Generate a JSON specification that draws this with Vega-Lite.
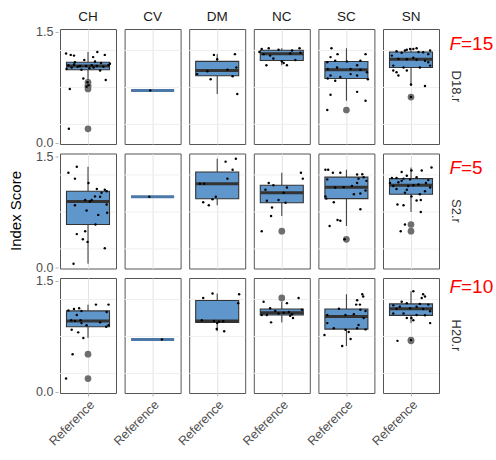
{
"$schema": "https://vega.github.io/schema/vega-lite/v6.json",
"padding": {"left": 8, "top": 9, "right": 2, "bottom": 4},
"bounds": "flush",
"data": {"values": [
{"row":"D18.r","col":"CH","x":"Reference","score":0.19,"jitter":-0.41},
{"row":"D18.r","col":"CH","x":"Reference","score":0.73,"jitter":-0.39},
{"row":"D18.r","col":"CH","x":"Reference","score":0.76,"jitter":-0.03},
{"row":"D18.r","col":"CH","x":"Reference","score":0.78,"jitter":0.01},
{"row":"D18.r","col":"CH","x":"Reference","score":0.82,"jitter":-0.01},
{"row":"D18.r","col":"CH","x":"Reference","score":0.85,"jitter":0.38},
{"row":"D18.r","col":"CH","x":"Reference","score":0.87,"jitter":-0.10},
{"row":"D18.r","col":"CH","x":"Reference","score":0.98,"jitter":0.26},
{"row":"D18.r","col":"CH","x":"Reference","score":0.99,"jitter":-0.14},
{"row":"D18.r","col":"CH","x":"Reference","score":1.00,"jitter":-0.46},
{"row":"D18.r","col":"CH","x":"Reference","score":1.01,"jitter":0.03},
{"row":"D18.r","col":"CH","x":"Reference","score":1.02,"jitter":-0.35},
{"row":"D18.r","col":"CH","x":"Reference","score":1.02,"jitter":0.12},
{"row":"D18.r","col":"CH","x":"Reference","score":1.03,"jitter":0.33},
{"row":"D18.r","col":"CH","x":"Reference","score":1.03,"jitter":-0.22},
{"row":"D18.r","col":"CH","x":"Reference","score":1.04,"jitter":-0.17},
{"row":"D18.r","col":"CH","x":"Reference","score":1.04,"jitter":-0.04},
{"row":"D18.r","col":"CH","x":"Reference","score":1.04,"jitter":0.19},
{"row":"D18.r","col":"CH","x":"Reference","score":1.05,"jitter":-0.42},
{"row":"D18.r","col":"CH","x":"Reference","score":1.05,"jitter":0.08},
{"row":"D18.r","col":"CH","x":"Reference","score":1.05,"jitter":0.44},
{"row":"D18.r","col":"CH","x":"Reference","score":1.06,"jitter":-0.30},
{"row":"D18.r","col":"CH","x":"Reference","score":1.07,"jitter":0.47},
{"row":"D18.r","col":"CH","x":"Reference","score":1.08,"jitter":0.28},
{"row":"D18.r","col":"CH","x":"Reference","score":1.09,"jitter":-0.28},
{"row":"D18.r","col":"CH","x":"Reference","score":1.10,"jitter":0.15},
{"row":"D18.r","col":"CH","x":"Reference","score":1.12,"jitter":-0.08},
{"row":"D18.r","col":"CH","x":"Reference","score":1.16,"jitter":0.11},
{"row":"D18.r","col":"CH","x":"Reference","score":1.18,"jitter":-0.30},
{"row":"D18.r","col":"CH","x":"Reference","score":1.19,"jitter":-0.37},
{"row":"D18.r","col":"CH","x":"Reference","score":1.19,"jitter":0.36},
{"row":"D18.r","col":"CH","x":"Reference","score":1.21,"jitter":-0.47},
{"row":"D18.r","col":"CH","x":"Reference","score":1.23,"jitter":0.20},
{"row":"D18.r","col":"CV","x":"Reference","score":0.71,"jitter":-0.05},
{"row":"D18.r","col":"DM","x":"Reference","score":0.66,"jitter":0.43},
{"row":"D18.r","col":"DM","x":"Reference","score":0.86,"jitter":-0.14},
{"row":"D18.r","col":"DM","x":"Reference","score":0.90,"jitter":0.33},
{"row":"D18.r","col":"DM","x":"Reference","score":0.93,"jitter":-0.43},
{"row":"D18.r","col":"DM","x":"Reference","score":0.97,"jitter":-0.21},
{"row":"D18.r","col":"DM","x":"Reference","score":0.99,"jitter":0.22},
{"row":"D18.r","col":"DM","x":"Reference","score":1.02,"jitter":0.41},
{"row":"D18.r","col":"DM","x":"Reference","score":1.13,"jitter":0.0},
{"row":"D18.r","col":"DM","x":"Reference","score":1.19,"jitter":-0.07},
{"row":"D18.r","col":"DM","x":"Reference","score":1.20,"jitter":0.38},
{"row":"D18.r","col":"NC","x":"Reference","score":1.05,"jitter":-0.33},
{"row":"D18.r","col":"NC","x":"Reference","score":1.05,"jitter":0.11},
{"row":"D18.r","col":"NC","x":"Reference","score":1.08,"jitter":0.04},
{"row":"D18.r","col":"NC","x":"Reference","score":1.10,"jitter":0.0},
{"row":"D18.r","col":"NC","x":"Reference","score":1.12,"jitter":0.29},
{"row":"D18.r","col":"NC","x":"Reference","score":1.14,"jitter":-0.18},
{"row":"D18.r","col":"NC","x":"Reference","score":1.18,"jitter":-0.25},
{"row":"D18.r","col":"NC","x":"Reference","score":1.20,"jitter":-0.39},
{"row":"D18.r","col":"NC","x":"Reference","score":1.21,"jitter":0.18},
{"row":"D18.r","col":"NC","x":"Reference","score":1.22,"jitter":0.40},
{"row":"D18.r","col":"NC","x":"Reference","score":1.23,"jitter":-0.48},
{"row":"D18.r","col":"NC","x":"Reference","score":1.25,"jitter":0.22},
{"row":"D18.r","col":"NC","x":"Reference","score":1.26,"jitter":-0.07},
{"row":"D18.r","col":"NC","x":"Reference","score":1.27,"jitter":-0.43},
{"row":"D18.r","col":"NC","x":"Reference","score":1.28,"jitter":-0.28},
{"row":"D18.r","col":"NC","x":"Reference","score":1.28,"jitter":0.38},
{"row":"D18.r","col":"SC","x":"Reference","score":0.445,"jitter":-0.41},
{"row":"D18.r","col":"SC","x":"Reference","score":0.57,"jitter":0.41},
{"row":"D18.r","col":"SC","x":"Reference","score":0.65,"jitter":-0.34},
{"row":"D18.r","col":"SC","x":"Reference","score":0.69,"jitter":0.23},
{"row":"D18.r","col":"SC","x":"Reference","score":0.84,"jitter":-0.24},
{"row":"D18.r","col":"SC","x":"Reference","score":0.86,"jitter":0.46},
{"row":"D18.r","col":"SC","x":"Reference","score":0.87,"jitter":-0.40},
{"row":"D18.r","col":"SC","x":"Reference","score":0.89,"jitter":-0.13},
{"row":"D18.r","col":"SC","x":"Reference","score":0.91,"jitter":-0.34},
{"row":"D18.r","col":"SC","x":"Reference","score":0.91,"jitter":0.23},
{"row":"D18.r","col":"SC","x":"Reference","score":0.93,"jitter":0.09},
{"row":"D18.r","col":"SC","x":"Reference","score":0.955,"jitter":0.44},
{"row":"D18.r","col":"SC","x":"Reference","score":0.99,"jitter":0.30},
{"row":"D18.r","col":"SC","x":"Reference","score":1.0,"jitter":-0.40},
{"row":"D18.r","col":"SC","x":"Reference","score":1.0,"jitter":0.09},
{"row":"D18.r","col":"SC","x":"Reference","score":1.02,"jitter":-0.2},
{"row":"D18.r","col":"SC","x":"Reference","score":1.05,"jitter":0.23},
{"row":"D18.r","col":"SC","x":"Reference","score":1.09,"jitter":-0.41},
{"row":"D18.r","col":"SC","x":"Reference","score":1.10,"jitter":0.01},
{"row":"D18.r","col":"SC","x":"Reference","score":1.11,"jitter":-0.24},
{"row":"D18.r","col":"SC","x":"Reference","score":1.11,"jitter":0.30},
{"row":"D18.r","col":"SC","x":"Reference","score":1.16,"jitter":-0.34},
{"row":"D18.r","col":"SC","x":"Reference","score":1.20,"jitter":-0.19},
{"row":"D18.r","col":"SC","x":"Reference","score":1.20,"jitter":0.41},
{"row":"D18.r","col":"SC","x":"Reference","score":1.28,"jitter":-0.32},
{"row":"D18.r","col":"SN","x":"Reference","score":0.62,"jitter":0.0},
{"row":"D18.r","col":"SN","x":"Reference","score":0.77,"jitter":0.30},
{"row":"D18.r","col":"SN","x":"Reference","score":0.79,"jitter":0.0},
{"row":"D18.r","col":"SN","x":"Reference","score":0.91,"jitter":-0.27},
{"row":"D18.r","col":"SN","x":"Reference","score":0.955,"jitter":-0.31},
{"row":"D18.r","col":"SN","x":"Reference","score":0.98,"jitter":-0.38},
{"row":"D18.r","col":"SN","x":"Reference","score":0.98,"jitter":-0.09},
{"row":"D18.r","col":"SN","x":"Reference","score":1.02,"jitter":-0.16},
{"row":"D18.r","col":"SN","x":"Reference","score":1.02,"jitter":0.19},
{"row":"D18.r","col":"SN","x":"Reference","score":1.045,"jitter":-0.38},
{"row":"D18.r","col":"SN","x":"Reference","score":1.045,"jitter":0.41},
{"row":"D18.r","col":"SN","x":"Reference","score":1.09,"jitter":0.37},
{"row":"D18.r","col":"SN","x":"Reference","score":1.11,"jitter":0.30},
{"row":"D18.r","col":"SN","x":"Reference","score":1.125,"jitter":0.12},
{"row":"D18.r","col":"SN","x":"Reference","score":1.13,"jitter":-0.09},
{"row":"D18.r","col":"SN","x":"Reference","score":1.135,"jitter":-0.27},
{"row":"D18.r","col":"SN","x":"Reference","score":1.15,"jitter":0.05},
{"row":"D18.r","col":"SN","x":"Reference","score":1.18,"jitter":-0.41},
{"row":"D18.r","col":"SN","x":"Reference","score":1.20,"jitter":0.37},
{"row":"D18.r","col":"SN","x":"Reference","score":1.22,"jitter":-0.20},
{"row":"D18.r","col":"SN","x":"Reference","score":1.225,"jitter":0.26},
{"row":"D18.r","col":"SN","x":"Reference","score":1.23,"jitter":0.16},
{"row":"D18.r","col":"SN","x":"Reference","score":1.24,"jitter":-0.31},
{"row":"D18.r","col":"SN","x":"Reference","score":1.25,"jitter":-0.13},
{"row":"D18.r","col":"SN","x":"Reference","score":1.25,"jitter":0.41},
{"row":"D18.r","col":"SN","x":"Reference","score":1.26,"jitter":-0.09},
{"row":"D18.r","col":"SN","x":"Reference","score":1.27,"jitter":-0.02},
{"row":"D18.r","col":"SN","x":"Reference","score":1.27,"jitter":0.05},
{"row":"D18.r","col":"SN","x":"Reference","score":1.28,"jitter":0.12},
{"row":"S2.r","col":"CH","x":"Reference","score":0.05,"jitter":-0.31},
{"row":"S2.r","col":"CH","x":"Reference","score":0.26,"jitter":0.36},
{"row":"S2.r","col":"CH","x":"Reference","score":0.345,"jitter":-0.01},
{"row":"S2.r","col":"CH","x":"Reference","score":0.38,"jitter":-0.11},
{"row":"S2.r","col":"CH","x":"Reference","score":0.45,"jitter":-0.24},
{"row":"S2.r","col":"CH","x":"Reference","score":0.49,"jitter":-0.06},
{"row":"S2.r","col":"CH","x":"Reference","score":0.58,"jitter":0.16},
{"row":"S2.r","col":"CH","x":"Reference","score":0.71,"jitter":0.22},
{"row":"S2.r","col":"CH","x":"Reference","score":0.74,"jitter":0.41},
{"row":"S2.r","col":"CH","x":"Reference","score":0.77,"jitter":-0.03},
{"row":"S2.r","col":"CH","x":"Reference","score":0.84,"jitter":-0.28},
{"row":"S2.r","col":"CH","x":"Reference","score":0.85,"jitter":0.40},
{"row":"S2.r","col":"CH","x":"Reference","score":0.89,"jitter":0.04},
{"row":"S2.r","col":"CH","x":"Reference","score":0.91,"jitter":-0.06},
{"row":"S2.r","col":"CH","x":"Reference","score":0.91,"jitter":0.08},
{"row":"S2.r","col":"CH","x":"Reference","score":0.955,"jitter":0.26},
{"row":"S2.r","col":"CH","x":"Reference","score":0.96,"jitter":0.15},
{"row":"S2.r","col":"CH","x":"Reference","score":1.01,"jitter":0.29},
{"row":"S2.r","col":"CH","x":"Reference","score":1.03,"jitter":0.40},
{"row":"S2.r","col":"CH","x":"Reference","score":1.05,"jitter":0.36},
{"row":"S2.r","col":"CH","x":"Reference","score":1.06,"jitter":0.19},
{"row":"S2.r","col":"CH","x":"Reference","score":1.14,"jitter":0.01},
{"row":"S2.r","col":"CH","x":"Reference","score":1.20,"jitter":-0.28},
{"row":"S2.r","col":"CH","x":"Reference","score":1.28,"jitter":-0.42},
{"row":"S2.r","col":"CH","x":"Reference","score":1.36,"jitter":-0.24},
{"row":"S2.r","col":"CV","x":"Reference","score":0.955,"jitter":-0.07},
{"row":"S2.r","col":"DM","x":"Reference","score":0.84,"jitter":-0.18},
{"row":"S2.r","col":"DM","x":"Reference","score":0.88,"jitter":-0.30},
{"row":"S2.r","col":"DM","x":"Reference","score":0.92,"jitter":-0.10},
{"row":"S2.r","col":"DM","x":"Reference","score":0.955,"jitter":-0.03},
{"row":"S2.r","col":"DM","x":"Reference","score":1.13,"jitter":-0.37},
{"row":"S2.r","col":"DM","x":"Reference","score":1.13,"jitter":-0.28},
{"row":"S2.r","col":"DM","x":"Reference","score":1.20,"jitter":0.22},
{"row":"S2.r","col":"DM","x":"Reference","score":1.32,"jitter":0.33},
{"row":"S2.r","col":"DM","x":"Reference","score":1.43,"jitter":0.18},
{"row":"S2.r","col":"DM","x":"Reference","score":1.47,"jitter":0.40},
{"row":"S2.r","col":"NC","x":"Reference","score":0.49,"jitter":-0.43},
{"row":"S2.r","col":"NC","x":"Reference","score":0.695,"jitter":-0.23},
{"row":"S2.r","col":"NC","x":"Reference","score":0.81,"jitter":-0.21},
{"row":"S2.r","col":"NC","x":"Reference","score":0.875,"jitter":0.08},
{"row":"S2.r","col":"NC","x":"Reference","score":0.90,"jitter":-0.32},
{"row":"S2.r","col":"NC","x":"Reference","score":0.91,"jitter":-0.07},
{"row":"S2.r","col":"NC","x":"Reference","score":1.01,"jitter":0.04},
{"row":"S2.r","col":"NC","x":"Reference","score":1.05,"jitter":-0.35},
{"row":"S2.r","col":"NC","x":"Reference","score":1.08,"jitter":0.11},
{"row":"S2.r","col":"NC","x":"Reference","score":1.11,"jitter":-0.18},
{"row":"S2.r","col":"NC","x":"Reference","score":1.14,"jitter":-0.28},
{"row":"S2.r","col":"NC","x":"Reference","score":1.20,"jitter":0.45},
{"row":"S2.r","col":"NC","x":"Reference","score":1.28,"jitter":0.41},
{"row":"S2.r","col":"SC","x":"Reference","score":0.38,"jitter":-0.04},
{"row":"S2.r","col":"SC","x":"Reference","score":0.56,"jitter":-0.36},
{"row":"S2.r","col":"SC","x":"Reference","score":0.63,"jitter":-0.13},
{"row":"S2.r","col":"SC","x":"Reference","score":0.64,"jitter":-0.19},
{"row":"S2.r","col":"SC","x":"Reference","score":0.785,"jitter":0.30},
{"row":"S2.r","col":"SC","x":"Reference","score":0.88,"jitter":-0.27},
{"row":"S2.r","col":"SC","x":"Reference","score":0.93,"jitter":-0.43},
{"row":"S2.r","col":"SC","x":"Reference","score":0.96,"jitter":-0.45},
{"row":"S2.r","col":"SC","x":"Reference","score":0.99,"jitter":0.16},
{"row":"S2.r","col":"SC","x":"Reference","score":1.00,"jitter":0.30},
{"row":"S2.r","col":"SC","x":"Reference","score":1.04,"jitter":0.41},
{"row":"S2.r","col":"SC","x":"Reference","score":1.08,"jitter":-0.24},
{"row":"S2.r","col":"SC","x":"Reference","score":1.085,"jitter":-0.06},
{"row":"S2.r","col":"SC","x":"Reference","score":1.10,"jitter":0.12},
{"row":"S2.r","col":"SC","x":"Reference","score":1.14,"jitter":0.23},
{"row":"S2.r","col":"SC","x":"Reference","score":1.17,"jitter":0.43},
{"row":"S2.r","col":"SC","x":"Reference","score":1.19,"jitter":-0.41},
{"row":"S2.r","col":"SC","x":"Reference","score":1.20,"jitter":0.26},
{"row":"S2.r","col":"SC","x":"Reference","score":1.22,"jitter":0.37},
{"row":"S2.r","col":"SC","x":"Reference","score":1.255,"jitter":0.23},
{"row":"S2.r","col":"SC","x":"Reference","score":1.26,"jitter":0.34},
{"row":"S2.r","col":"SC","x":"Reference","score":1.28,"jitter":-0.29},
{"row":"S2.r","col":"SC","x":"Reference","score":1.28,"jitter":-0.13},
{"row":"S2.r","col":"SC","x":"Reference","score":1.32,"jitter":-0.45},
{"row":"S2.r","col":"SC","x":"Reference","score":1.32,"jitter":-0.39},
{"row":"S2.r","col":"SN","x":"Reference","score":0.49,"jitter":-0.22},
{"row":"S2.r","col":"SN","x":"Reference","score":0.58,"jitter":-0.13},
{"row":"S2.r","col":"SN","x":"Reference","score":0.75,"jitter":0.21},
{"row":"S2.r","col":"SN","x":"Reference","score":0.84,"jitter":-0.16},
{"row":"S2.r","col":"SN","x":"Reference","score":0.85,"jitter":-0.29},
{"row":"S2.r","col":"SN","x":"Reference","score":0.905,"jitter":0.12},
{"row":"S2.r","col":"SN","x":"Reference","score":0.91,"jitter":0.21},
{"row":"S2.r","col":"SN","x":"Reference","score":0.96,"jitter":0.01},
{"row":"S2.r","col":"SN","x":"Reference","score":0.99,"jitter":0.19},
{"row":"S2.r","col":"SN","x":"Reference","score":1.01,"jitter":-0.13},
{"row":"S2.r","col":"SN","x":"Reference","score":1.03,"jitter":0.30},
{"row":"S2.r","col":"SN","x":"Reference","score":1.05,"jitter":-0.09},
{"row":"S2.r","col":"SN","x":"Reference","score":1.06,"jitter":-0.31},
{"row":"S2.r","col":"SN","x":"Reference","score":1.08,"jitter":0.41},
{"row":"S2.r","col":"SN","x":"Reference","score":1.10,"jitter":-0.06},
{"row":"S2.r","col":"SN","x":"Reference","score":1.10,"jitter":-0.38},
{"row":"S2.r","col":"SN","x":"Reference","score":1.11,"jitter":0.05},
{"row":"S2.r","col":"SN","x":"Reference","score":1.12,"jitter":0.16},
{"row":"S2.r","col":"SN","x":"Reference","score":1.14,"jitter":-0.45},
{"row":"S2.r","col":"SN","x":"Reference","score":1.14,"jitter":0.32},
{"row":"S2.r","col":"SN","x":"Reference","score":1.15,"jitter":-0.27},
{"row":"S2.r","col":"SN","x":"Reference","score":1.17,"jitter":-0.20},
{"row":"S2.r","col":"SN","x":"Reference","score":1.18,"jitter":0.37},
{"row":"S2.r","col":"SN","x":"Reference","score":1.19,"jitter":-0.02},
{"row":"S2.r","col":"SN","x":"Reference","score":1.20,"jitter":-0.16},
{"row":"S2.r","col":"SN","x":"Reference","score":1.21,"jitter":-0.41},
{"row":"S2.r","col":"SN","x":"Reference","score":1.21,"jitter":-0.31},
{"row":"S2.r","col":"SN","x":"Reference","score":1.22,"jitter":0.12},
{"row":"S2.r","col":"SN","x":"Reference","score":1.24,"jitter":-0.09},
{"row":"S2.r","col":"SN","x":"Reference","score":1.29,"jitter":-0.20},
{"row":"S2.r","col":"SN","x":"Reference","score":1.31,"jitter":0.23},
{"row":"S2.r","col":"SN","x":"Reference","score":1.31,"jitter":0.01},
{"row":"S2.r","col":"SN","x":"Reference","score":1.35,"jitter":0.44},
{"row":"H20.r","col":"CH","x":"Reference","score":0.18,"jitter":-0.47},
{"row":"H20.r","col":"CH","x":"Reference","score":0.51,"jitter":-0.33},
{"row":"H20.r","col":"CH","x":"Reference","score":0.73,"jitter":-0.10},
{"row":"H20.r","col":"CH","x":"Reference","score":0.805,"jitter":-0.21},
{"row":"H20.r","col":"CH","x":"Reference","score":0.84,"jitter":-0.35},
{"row":"H20.r","col":"CH","x":"Reference","score":0.88,"jitter":0.39},
{"row":"H20.r","col":"CH","x":"Reference","score":0.90,"jitter":-0.03},
{"row":"H20.r","col":"CH","x":"Reference","score":0.90,"jitter":0.44},
{"row":"H20.r","col":"CH","x":"Reference","score":0.93,"jitter":-0.14},
{"row":"H20.r","col":"CH","x":"Reference","score":0.94,"jitter":0.26},
{"row":"H20.r","col":"CH","x":"Reference","score":0.96,"jitter":-0.28},
{"row":"H20.r","col":"CH","x":"Reference","score":0.97,"jitter":-0.36},
{"row":"H20.r","col":"CH","x":"Reference","score":0.97,"jitter":-0.16},
{"row":"H20.r","col":"CH","x":"Reference","score":1.04,"jitter":-0.24},
{"row":"H20.r","col":"CH","x":"Reference","score":1.08,"jitter":0.40},
{"row":"H20.r","col":"CH","x":"Reference","score":1.095,"jitter":-0.14},
{"row":"H20.r","col":"CH","x":"Reference","score":1.10,"jitter":-0.42},
{"row":"H20.r","col":"CH","x":"Reference","score":1.12,"jitter":-0.30},
{"row":"H20.r","col":"CH","x":"Reference","score":1.13,"jitter":-0.19},
{"row":"H20.r","col":"CH","x":"Reference","score":1.18,"jitter":0.17},
{"row":"H20.r","col":"CH","x":"Reference","score":1.18,"jitter":0.44},
{"row":"H20.r","col":"CV","x":"Reference","score":0.71,"jitter":0.2},
{"row":"H20.r","col":"DM","x":"Reference","score":0.82,"jitter":0.15},
{"row":"H20.r","col":"DM","x":"Reference","score":0.85,"jitter":-0.01},
{"row":"H20.r","col":"DM","x":"Reference","score":0.93,"jitter":0.0},
{"row":"H20.r","col":"DM","x":"Reference","score":0.95,"jitter":0.04},
{"row":"H20.r","col":"DM","x":"Reference","score":0.955,"jitter":0.13},
{"row":"H20.r","col":"DM","x":"Reference","score":0.96,"jitter":-0.07},
{"row":"H20.r","col":"DM","x":"Reference","score":0.97,"jitter":-0.33},
{"row":"H20.r","col":"DM","x":"Reference","score":1.20,"jitter":0.45},
{"row":"H20.r","col":"DM","x":"Reference","score":1.27,"jitter":-0.30},
{"row":"H20.r","col":"DM","x":"Reference","score":1.32,"jitter":0.47},
{"row":"H20.r","col":"DM","x":"Reference","score":1.33,"jitter":-0.10},
{"row":"H20.r","col":"NC","x":"Reference","score":0.94,"jitter":-0.23},
{"row":"H20.r","col":"NC","x":"Reference","score":1.0,"jitter":0.24},
{"row":"H20.r","col":"NC","x":"Reference","score":1.03,"jitter":0.18},
{"row":"H20.r","col":"NC","x":"Reference","score":1.04,"jitter":-0.43},
{"row":"H20.r","col":"NC","x":"Reference","score":1.04,"jitter":-0.32},
{"row":"H20.r","col":"NC","x":"Reference","score":1.05,"jitter":0.22},
{"row":"H20.r","col":"NC","x":"Reference","score":1.06,"jitter":-0.07},
{"row":"H20.r","col":"NC","x":"Reference","score":1.07,"jitter":0.04},
{"row":"H20.r","col":"NC","x":"Reference","score":1.08,"jitter":0.15},
{"row":"H20.r","col":"NC","x":"Reference","score":1.095,"jitter":-0.14},
{"row":"H20.r","col":"NC","x":"Reference","score":1.11,"jitter":0.43},
{"row":"H20.r","col":"NC","x":"Reference","score":1.13,"jitter":-0.25},
{"row":"H20.r","col":"NC","x":"Reference","score":1.20,"jitter":0.11},
{"row":"H20.r","col":"NC","x":"Reference","score":1.22,"jitter":-0.39},
{"row":"H20.r","col":"NC","x":"Reference","score":1.27,"jitter":0.36},
{"row":"H20.r","col":"SC","x":"Reference","score":0.62,"jitter":-0.09},
{"row":"H20.r","col":"SC","x":"Reference","score":0.715,"jitter":0.09},
{"row":"H20.r","col":"SC","x":"Reference","score":0.77,"jitter":-0.47},
{"row":"H20.r","col":"SC","x":"Reference","score":0.81,"jitter":0.05},
{"row":"H20.r","col":"SC","x":"Reference","score":0.84,"jitter":-0.02},
{"row":"H20.r","col":"SC","x":"Reference","score":0.845,"jitter":0.41},
{"row":"H20.r","col":"SC","x":"Reference","score":0.86,"jitter":-0.27},
{"row":"H20.r","col":"SC","x":"Reference","score":0.86,"jitter":0.23},
{"row":"H20.r","col":"SC","x":"Reference","score":0.905,"jitter":0.26},
{"row":"H20.r","col":"SC","x":"Reference","score":0.93,"jitter":-0.41},
{"row":"H20.r","col":"SC","x":"Reference","score":1.00,"jitter":0.37},
{"row":"H20.r","col":"SC","x":"Reference","score":1.04,"jitter":-0.41},
{"row":"H20.r","col":"SC","x":"Reference","score":1.04,"jitter":-0.02},
{"row":"H20.r","col":"SC","x":"Reference","score":1.05,"jitter":0.16},
{"row":"H20.r","col":"SC","x":"Reference","score":1.095,"jitter":0.41},
{"row":"H20.r","col":"SC","x":"Reference","score":1.11,"jitter":0.30},
{"row":"H20.r","col":"SC","x":"Reference","score":1.125,"jitter":-0.16},
{"row":"H20.r","col":"SC","x":"Reference","score":1.18,"jitter":0.29},
{"row":"H20.r","col":"SC","x":"Reference","score":1.18,"jitter":0.21},
{"row":"H20.r","col":"SC","x":"Reference","score":1.24,"jitter":0.23},
{"row":"H20.r","col":"SC","x":"Reference","score":1.29,"jitter":0.36},
{"row":"H20.r","col":"SC","x":"Reference","score":1.32,"jitter":0.34},
{"row":"H20.r","col":"SN","x":"Reference","score":0.69,"jitter":-0.29},
{"row":"H20.r","col":"SN","x":"Reference","score":0.70,"jitter":0.0},
{"row":"H20.r","col":"SN","x":"Reference","score":0.93,"jitter":0.41},
{"row":"H20.r","col":"SN","x":"Reference","score":0.97,"jitter":0.05},
{"row":"H20.r","col":"SN","x":"Reference","score":1.0,"jitter":-0.09},
{"row":"H20.r","col":"SN","x":"Reference","score":1.0,"jitter":0.01},
{"row":"H20.r","col":"SN","x":"Reference","score":1.035,"jitter":0.30},
{"row":"H20.r","col":"SN","x":"Reference","score":1.04,"jitter":0.12},
{"row":"H20.r","col":"SN","x":"Reference","score":1.06,"jitter":-0.38},
{"row":"H20.r","col":"SN","x":"Reference","score":1.06,"jitter":-0.16},
{"row":"H20.r","col":"SN","x":"Reference","score":1.09,"jitter":0.41},
{"row":"H20.r","col":"SN","x":"Reference","score":1.12,"jitter":0.26},
{"row":"H20.r","col":"SN","x":"Reference","score":1.125,"jitter":-0.31},
{"row":"H20.r","col":"SN","x":"Reference","score":1.13,"jitter":-0.02},
{"row":"H20.r","col":"SN","x":"Reference","score":1.15,"jitter":-0.24},
{"row":"H20.r","col":"SN","x":"Reference","score":1.15,"jitter":0.12},
{"row":"H20.r","col":"SN","x":"Reference","score":1.17,"jitter":-0.38},
{"row":"H20.r","col":"SN","x":"Reference","score":1.18,"jitter":0.37},
{"row":"H20.r","col":"SN","x":"Reference","score":1.19,"jitter":0.19},
{"row":"H20.r","col":"SN","x":"Reference","score":1.20,"jitter":-0.09},
{"row":"H20.r","col":"SN","x":"Reference","score":1.22,"jitter":-0.20},
{"row":"H20.r","col":"SN","x":"Reference","score":1.27,"jitter":0.23},
{"row":"H20.r","col":"SN","x":"Reference","score":1.29,"jitter":0.30},
{"row":"H20.r","col":"SN","x":"Reference","score":1.32,"jitter":0.26},
{"row":"H20.r","col":"SN","x":"Reference","score":1.36,"jitter":0.05},
{"row":"D18.r","col":"SN","x":"Reference","fy":1.34,"ft":"=15"},
{"row":"S2.r","col":"SN","x":"Reference","fy":1.35,"ft":"=5"},
{"row":"H20.r","col":"SN","x":"Reference","fy":1.42,"ft":"=10"}
]},
"facet": {
  "row": {"field": "row", "type": "nominal", "sort": ["D18.r", "S2.r", "H20.r"], "title": "Index Score",
    "header": {"labelOrient": "right", "labelAngle": 90, "labelFontSize": 13, "labelColor": "#333333", "labelPadding": 10, "labelFont": "Liberation Sans",
      "titleOrient": "left", "titleAngle": -90, "titleFontSize": 15, "titleColor": "#000000", "titleFontWeight": "normal", "titleFont": "Liberation Sans", "titlePadding": -14}},
  "column": {"field": "col", "type": "nominal", "title": null,
    "header": {"labelFontSize": 13.5, "labelColor": "#1a1a1a", "labelPadding": 6, "labelFont": "Liberation Sans"}}
},
"spacing": {"row": 9.5, "column": 8.6},
"spec": {
  "width": 56,
  "height": 115,
  "layer": [
    {
      "transform": [{"aggregate": [{"op": "count", "as": "n"}], "groupby": ["row", "col"]}],
      "mark": {"type": "rule", "color": "#efefef", "strokeWidth": 1},
      "encoding": {"y": {"datum": 0.25, "type": "quantitative", "title": null}}
    },
    {
      "transform": [{"aggregate": [{"op": "count", "as": "n"}], "groupby": ["row", "col"]}],
      "mark": {"type": "rule", "color": "#efefef", "strokeWidth": 1},
      "encoding": {"y": {"datum": 0.75, "type": "quantitative", "title": null}}
    },
    {
      "transform": [{"aggregate": [{"op": "count", "as": "n"}], "groupby": ["row", "col"]}],
      "mark": {"type": "rule", "color": "#efefef", "strokeWidth": 1},
      "encoding": {"y": {"datum": 1.25, "type": "quantitative", "title": null}}
    },
    {
      "transform": [{"filter": "isValid(datum.score)"}],
      "mark": {"type": "boxplot", "extent": 1.5, "size": 43,
        "box": {"color": "#5f97cd", "stroke": "#333333", "strokeWidth": 1.1, "opacity": 1},
        "median": {"color": "#333333", "thickness": 3, "opacity": 1},
        "rule": {"color": "#333333", "strokeWidth": 1},
        "outliers": {"color": "#6e6e6e", "size": 45, "filled": true, "opacity": 1}},
      "encoding": {
        "x": {"field": "x", "type": "nominal", "title": null,
          "scale": {"paddingInner": 0, "paddingOuter": 0},
          "axis": {"labelAngle": -45, "labelFontSize": 12.5, "labelColor": "#4d4d4d", "tickColor": "#b3b3b3", "tickSize": 3, "domain": false, "grid": true, "gridColor": "#e3e3e3", "labelPadding": 2, "labelFont": "Liberation Sans"}},
        "y": {"field": "score", "type": "quantitative", "title": null,
          "scale": {"domain": [-0.015, 1.54], "nice": false, "zero": false},
          "axis": {"values": [0, 0.5, 1, 1.5], "format": ".1f",
            "labelOverlap": false, "labelSeparation": -200, "labelFlush": false, "offset": 2,
            "gridColor": "#e3e3e3",
            "tickColor": "#b3b3b3", "tickSize": 3, "labelFontSize": 12.5, "labelColor": "#4d4d4d", "labelPadding": 2,
            "domain": false, "labelFont": "Liberation Sans"}}
      }
    },
    {
      "transform": [{"filter": "isValid(datum.score)"}],
      "mark": {"type": "point", "filled": true, "color": "#000000", "size": 6, "opacity": 1},
      "encoding": {
        "x": {"field": "x", "type": "nominal", "title": null},
        "y": {"field": "score", "type": "quantitative", "title": null},
        "xOffset": {"field": "jitter", "type": "quantitative", "scale": {"domain": [-0.6, 0.6]}}
      }
    },
    {
      "transform": [{"filter": "isValid(datum.fy)"}],
      "mark": {"type": "text", "text": "F", "fontStyle": "italic", "align": "right", "baseline": "middle", "dx": 50, "color": "#ff0000", "fontSize": 19, "font": "Liberation Sans"},
      "encoding": {"x": {"field": "x", "type": "nominal", "title": null}, "y": {"field": "fy", "type": "quantitative", "title": null}}
    },
    {
      "transform": [{"filter": "isValid(datum.fy)"}],
      "mark": {"type": "text", "align": "left", "baseline": "middle", "dx": 50, "color": "#ff0000", "fontSize": 19, "font": "Liberation Sans"},
      "encoding": {"x": {"field": "x", "type": "nominal", "title": null}, "y": {"field": "fy", "type": "quantitative", "title": null}, "text": {"field": "ft"}}
    }
  ]
},
"config": {"view": {"stroke": "#555555", "strokeWidth": 1}, "font": "Liberation Sans", "axis": {"labelOverlap": false}}
}
